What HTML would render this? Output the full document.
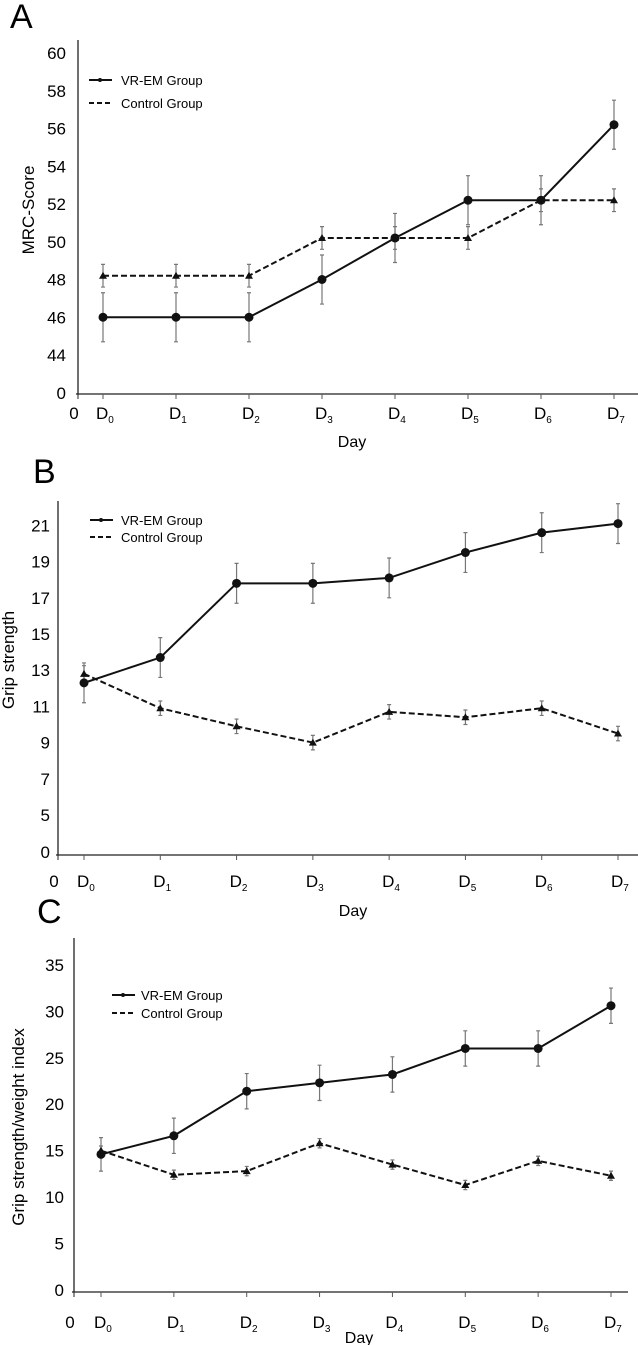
<!DOCTYPE html>
<html><head><meta charset="utf-8"><style>
body{margin:0;background:#fff;}
svg{display:block;font-family:"Liberation Sans",sans-serif;}
</style></head><body>
<svg id="fig" width="638" height="1345" viewBox="0 0 638 1345"></svg>
<script>
const days = ["0","1","2","3","4","5","6","7"];
// Panel A
const aTicks = [0,44,46,48,50,52,54,56,58,60];
const aVR = [46,46,46,48,50.2,52.2,52.2,56.2];
const aVRerr = [1.3,1.3,1.3,1.3,1.3,1.3,1.3,1.3];
const aCtl = [48.2,48.2,48.2,50.2,50.2,50.2,52.2,52.2];
const aCtlErr = [0.6,0.6,0.6,0.6,0.6,0.6,0.6,0.6];
// Panel B
const bTicks = [0,5,7,9,11,13,15,17,19,21];
const bVR = [12.3,13.7,17.8,17.8,18.1,19.5,20.6,21.1];
const bVRerr = [1.1,1.1,1.1,1.1,1.1,1.1,1.1,1.1];
const bCtl = [12.8,10.9,9.9,9.0,10.7,10.4,10.9,9.5];
const bCtlErr = [0.45,0.4,0.4,0.4,0.4,0.4,0.4,0.4];
// Panel C
const cTicks = [0,5,10,15,20,25,30,35];
const cVR = [14.6,16.6,21.4,22.3,23.2,26.0,26.0,30.6];
const cVRerr = [1.8,1.9,1.9,1.9,1.9,1.9,1.9,1.9];
const cCtl = [15.0,12.4,12.8,15.8,13.5,11.3,13.9,12.3];
const cCtlErr = [0.5,0.5,0.5,0.5,0.5,0.5,0.5,0.5];

const NS="http://www.w3.org/2000/svg";
const svg=document.getElementById('fig');
function mk(tag,attrs,parent,text){const e=document.createElementNS(NS,tag);for(const k in attrs)e.setAttribute(k,attrs[k]);if(text!==undefined)e.textContent=text;(parent||svg).appendChild(e);return e;}

function panel(o){
  const g=mk('g',{});
  
  
  const X=i=>o.xs[0]+(o.xs[1]-o.xs[0])*i/7;
  const Y=o.y;
  const t=mk('text',{x:o.letter[0],y:o.letter[1],'font-size':34},g,o.id.toUpperCase());
  
  
  // axes
  const ya=mk('line',{x1:o.ax,y1:o.top,x2:o.ax,y2:o.base,stroke:'#222','stroke-width':1.3},g);
  
  
  const xa=mk('line',{x1:o.ax-2,y1:o.base,x2:o.right,y2:o.base,stroke:'#222','stroke-width':1.3},g);
  
  
  o.ticks.forEach(v=>{
    const tl=mk('text',{x:o.tickX,y:Y(v)+6,'font-size':17,'text-anchor':'end'},g,String(v));
    
    
  });
  mk('line',{x1:o.ax,y1:o.base,x2:o.ax,y2:o.base+5,stroke:'#222'},g);
  const z=mk('text',{x:o.ax-4,y:o.labY,'font-size':17,'text-anchor':'middle'},g,'0');
  
  
  days.forEach((d,i)=>{
    mk('line',{x1:X(i),y1:o.base,x2:X(i),y2:o.base+5,stroke:'#555'},g);
    const tl=mk('text',{x:X(i)-7,y:o.labY,'font-size':17},g,'D');
    mk('tspan',{'font-size':10,dy:4},tl,d);
    
    
  });
  const dl=mk('text',{x:o.dayX,y:o.dayY,'font-size':16,'text-anchor':'middle'},g,'Day');
  
  
  const yt=mk('text',{x:0,y:0,'font-size':17,'text-anchor':'middle',transform:`translate(${o.ytX},${o.ytY}) rotate(-90)`},g,o.ytitle);
  
  
  // error bars
  function errs(vals,er,name){
    vals.forEach((v,i)=>{
      const e=mk('path',{d:`M${X(i)} ${Y(v-er[i])}V${Y(v+er[i])}M${X(i)-2} ${Y(v-er[i])}h4M${X(i)-2} ${Y(v+er[i])}h4`,stroke:'#777','stroke-width':1.2,fill:'none'},g);
      
      
    });
  }
  errs(o.ctl,o.ctlErr,'control-error-bar');
  errs(o.vr,o.vrErr,'vr-error-bar');
  const cl=mk('polyline',{points:o.ctl.map((v,i)=>X(i)+','+Y(v)).join(' '),fill:'none',stroke:'#111','stroke-width':2,'stroke-dasharray':'6,3'},g);
  
  
  const vl=mk('polyline',{points:o.vr.map((v,i)=>X(i)+','+Y(v)).join(' '),fill:'none',stroke:'#111','stroke-width':2},g);
  
  
  o.ctl.forEach((v,i)=>{
    const x=X(i),y=Y(v);
    const p=mk('polygon',{points:`${x},${y-4} ${x-4},${y+3} ${x+4},${y+3}`,fill:'#111'},g);
    
    
  });
  o.vr.forEach((v,i)=>{
    const c=mk('circle',{cx:X(i),cy:Y(v),r:4.5,fill:'#111'},g);
    
    
  });
  // legend
  const lg=mk('g',{},g);
  
  
  const [lx,ly1,ly2,tx]=o.leg;
  mk('line',{x1:lx,y1:ly1,x2:lx+23,y2:ly1,stroke:'#111','stroke-width':2},lg);
  mk('circle',{cx:lx+11,cy:ly1,r:2,fill:'#111'},lg);
  const l1=mk('text',{x:tx,y:ly1+5,'font-size':13},lg,'VR-EM Group');
  
  
  mk('line',{x1:lx,y1:ly2,x2:lx+23,y2:ly2,stroke:'#111','stroke-width':2,'stroke-dasharray':'5,3'},lg);
  const l2=mk('text',{x:tx,y:ly2+5,'font-size':13},lg,'Control Group');
  
  
}

// A: broken axis, 0 then 44..60 evenly
const yA=v=> v<=0 ? 393 : 355-(v-44)/2*37.75;
panel({id:'a',xs:[103,614],y:yA,ticks:aTicks,vr:aVR,vrErr:aVRerr,ctl:aCtl,ctlErr:aCtlErr,
  ax:78,top:40,base:394,right:638,tickX:66,labY:419,dayX:352,dayY:447,ytX:34,ytY:210,ytitle:'MRC-Score',
  letter:[10,28],leg:[89,80,103,121]});
// B
const yB=v=> v<=0 ? 852 : 815-(v-5)*18.1;
panel({id:'b',xs:[84,618],y:yB,ticks:bTicks,vr:bVR,vrErr:bVRerr,ctl:bCtl,ctlErr:bCtlErr,
  ax:58,top:501,base:855,right:638,tickX:50,labY:887,dayX:353,dayY:916,ytX:14,ytY:660,ytitle:'Grip strength',
  letter:[33,483],leg:[90,520,537,121]});
// C
const yC=v=>1290-v*9.29;
panel({id:'c',xs:[101,611],y:yC,ticks:cTicks,vr:cVR,vrErr:cVRerr,ctl:cCtl,ctlErr:cCtlErr,
  ax:74,top:938,base:1292,right:628,tickX:64,labY:1328,dayX:359,dayY:1343,ytX:24,ytY:1127,ytitle:'Grip strength/weight index',
  letter:[37,923],leg:[112,995,1013,141]});
</script>
</body></html>
